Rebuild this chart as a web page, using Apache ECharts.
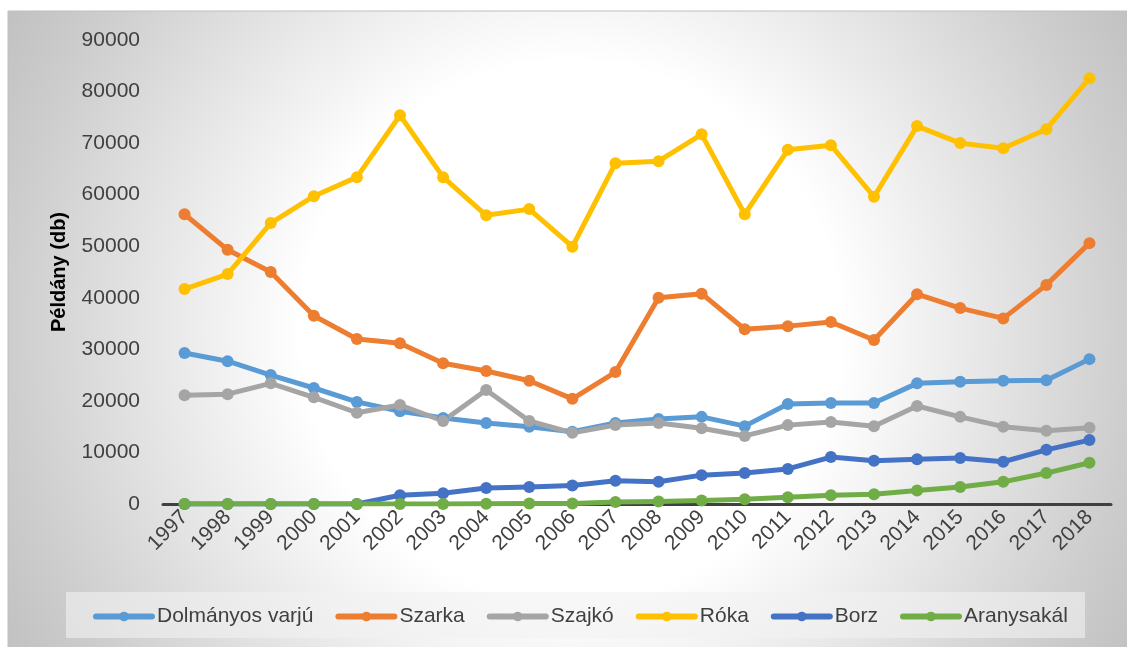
<!DOCTYPE html>
<html>
<head>
<meta charset="utf-8">
<script src="https://cdn.jsdelivr.net/npm/echarts@6/dist/echarts.min.js"></script>
<style>
  html, body { margin: 0; padding: 0; background: #fff; overflow: hidden; }
  #chart { width: 1127px; height: 647px; }
</style>
</head>
<body>
<div id="chart"></div>
<script>
// évek
const years = ['1997', '1998', '1999', '2000', '2001', '2002', '2003', '2004', '2005', '2006', '2007',
    '2008', '2009', '2010', '2011', '2012', '2013', '2014', '2015', '2016', '2017', '2018'];

// fajonkénti példányszámok
const dolmanyosVarju = [29300, 27700, 25000, 22500, 19800, 18000, 16700, 15700, 15000, 14000, 15700,
    16500, 16900, 15100, 19400, 19600, 19600, 23400, 23700, 23900, 24000, 28100];
const szarka = [56200, 49300, 45000, 36500, 32000, 31200, 27300, 25800, 23900, 20400, 25600,
    40000, 40800, 33900, 34500, 35300, 31800, 40700, 38000, 36000, 42500, 50600];
const szajko = [21100, 21300, 23400, 20700, 17700, 19200, 16100, 22100, 16100, 13800, 15300,
    15700, 14700, 13200, 15300, 15900, 15100, 19000, 16900, 15000, 14200, 14800];
const roka = [41700, 44600, 54500, 59700, 63400, 75400, 63400, 56000, 57200, 49900, 66100,
    66500, 71700, 56200, 68700, 69600, 59600, 73300, 70000, 69000, 72700, 82600];
const borz = [0, 0, 0, 0, 0, 1700, 2100, 3100, 3300, 3600, 4500,
    4300, 5600, 6000, 6800, 9100, 8400, 8700, 8900, 8200, 10500, 12400];
const aranysakal = [0, 0, 0, 0, 0, 0, 0, 50, 80, 100, 400,
    500, 700, 900, 1300, 1700, 1900, 2600, 3300, 4300, 6000, 8000];

const yTicks = [0, 90000, 10000]; // min, max, lépés

const chart = echarts.init(document.getElementById('chart'), null, { renderer: 'canvas' });

function makeSeries(name, data, color) {
    return {
        name: name,
        type: 'line',
        data: data,
        symbol: 'circle',
        symbolSize: 12,
        itemStyle: { color: color },
        lineStyle: { color: color, width: 5, cap: 'round', join: 'round' },
        emphasis: { disabled: true }
    };
}

const font = 'Liberation Sans, Arial, sans-serif';

chart.setOption({
    animation: false,
    textStyle: { fontFamily: font },
    graphic: [
        {
            // háttér keret sugárirányú színátmenettel
            type: 'rect',
            z: -10,
            shape: { x: 8, y: 11, width: 1125, height: 640 },
            style: {
                fill: {
                    type: 'radial', x: 0.5, y: 0.5, r: 1,
                    colorStops: [
                        { offset: 0, color: '#ffffff' },
                        { offset: 0.42, color: '#ffffff' },
                        { offset: 0.88, color: '#cdcdcd' },
                        { offset: 1, color: '#c2c2c2' }
                    ]
                },
                stroke: '#bfbfbf',
                lineWidth: 1
            }
        },
        {
            // jelmagyarázat doboza
            type: 'rect',
            z: -9,
            shape: { x: 66, y: 592, width: 1019, height: 46 },
            style: { fill: 'rgba(242,242,242,0.6)' }
        }
    ],
    legend: {
        left: 88,
        top: 601,
        itemWidth: 56,
        itemHeight: 12,
        itemGap: 22,
        lineStyle: { width: 6 },
        textStyle: { fontSize: 21, color: '#404040', fontFamily: font },
        data: ['Dolmányos varjú', 'Szarka', 'Szajkó', 'Róka', 'Borz', 'Aranysakál']
    },
    grid: { left: 163, right: 16, top: 40, bottom: 143 },
    xAxis: {
        type: 'category',
        data: years,
        boundaryGap: true,
        axisLine: { lineStyle: { color: '#404040', width: 3 } },
        axisTick: { show: false },
        axisLabel: {
            rotate: 45,
            fontSize: 21,
            color: '#404040',
            margin: 10,
            interval: 0
        }
    },
    yAxis: {
        type: 'value',
        min: yTicks[0],
        max: yTicks[1],
        interval: yTicks[2],
        name: 'Példány (db)',
        nameLocation: 'middle',
        nameGap: 94,
        nameTextStyle: { fontSize: 20, fontWeight: 'bold', color: '#000', fontFamily: font },
        axisLine: { show: false },
        axisTick: { show: false },
        splitLine: { show: false },
        axisLabel: {
            fontSize: 21,
            color: '#404040',
            margin: 23,
            formatter: function (v) { return String(v); }
        }
    },
    series: [
        makeSeries('Dolmányos varjú', dolmanyosVarju, '#5B9BD5'),
        makeSeries('Szarka', szarka, '#ED7D31'),
        makeSeries('Szajkó', szajko, '#A5A5A5'),
        makeSeries('Róka', roka, '#FFC000'),
        makeSeries('Borz', borz, '#4472C4'),
        makeSeries('Aranysakál', aranysakal, '#70AD47')
    ]
});
</script>
</body>
</html>
